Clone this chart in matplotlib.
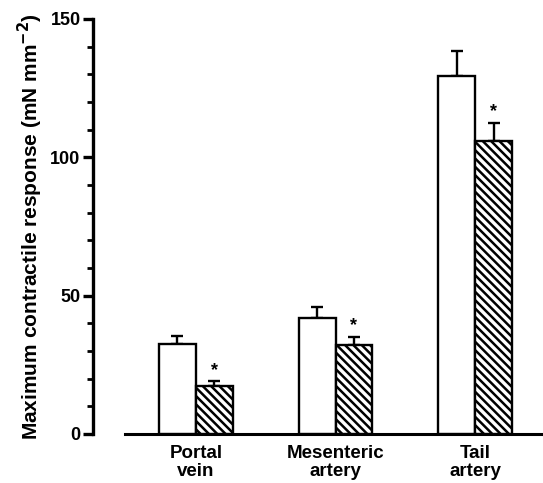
import matplotlib
matplotlib.use("Agg")
import matplotlib.pyplot as plt
import numpy as np

categories = ["Portal\nvein", "Mesenteric\nartery", "Tail\nartery"]
control = [32.5, 42.0, 129.5]
control_err = [3.0, 4.0, 9.0]
treated = [17.5, 32.0, 106.0]
treated_err = [1.5, 3.0, 6.5]
sig = [True, True, True]
yticks = [0, 50, 100, 150]

plt.rcParams['font.family'] = ['Liberation Sans', 'DejaVu Sans']
plt.rcParams['font.weight'] = 'bold'
plt.rcParams['axes.labelweight'] = 'bold'
plt.rcParams['mathtext.default'] = 'bf'
plt.rcParams['hatch.linewidth'] = 1.8

fig = plt.figure(figsize=(5.43, 4.83), dpi=100)
ax = fig.add_axes([93/543, 49/483, 1 - 93/543, (434 - 19)/483])

x = np.arange(len(categories))
w = 0.265
ax.bar(x - w/2, control, w, color='white', edgecolor='black', linewidth=1.7, zorder=2)
ax.bar(x + w/2, treated, w, color='white', edgecolor='black', linewidth=1.7,
       hatch='\\\\\\\\', zorder=2)
ax.errorbar(x - w/2, control, yerr=[np.zeros(3), control_err], fmt='none',
            ecolor='black', elinewidth=1.7, capsize=4.5, capthick=1.7, zorder=1)
ax.errorbar(x + w/2, treated, yerr=[np.zeros(3), treated_err], fmt='none',
            ecolor='black', elinewidth=1.7, capsize=4.5, capthick=1.7, zorder=1)
for xi, v, e, s in zip(x, treated, treated_err, sig):
    if s:
        ax.text(xi + w/2, v + e + 1.0, '*', ha='center', va='bottom',
                fontsize=13, fontweight='bold')

ax.set_xlim(-0.738, 2.487)
ax.set_ylim(0, 150)
ax.axhline(0, xmin=(-0.509 + 0.738)/(2.487 + 0.738), xmax=1, color='black',
           linewidth=2.2, zorder=3, clip_on=False)

for sp in ['top', 'right', 'bottom']:
    ax.spines[sp].set_visible(False)
ax.spines['left'].set_linewidth(2.4)
ax.spines['left'].set_bounds(0, 150)

ax.set_yticks(yticks)
ax.set_yticks(np.arange(0, 151, 10), minor=True)
ax.tick_params(axis='y', which='major', length=7, width=2.4, labelsize=13, pad=2)
ax.tick_params(axis='y', which='minor', length=4, width=2.0)
ax.set_xticks(x)
ax.set_xticklabels(categories, fontsize=13.5, linespacing=1.1)
ax.tick_params(axis='x', length=0, pad=8)
ax.set_ylabel('Maximum contractile response (mN mm$^{-2}$)', fontsize=15,
              fontweight='bold', labelpad=4)

fig.savefig('out.png', dpi=100)
